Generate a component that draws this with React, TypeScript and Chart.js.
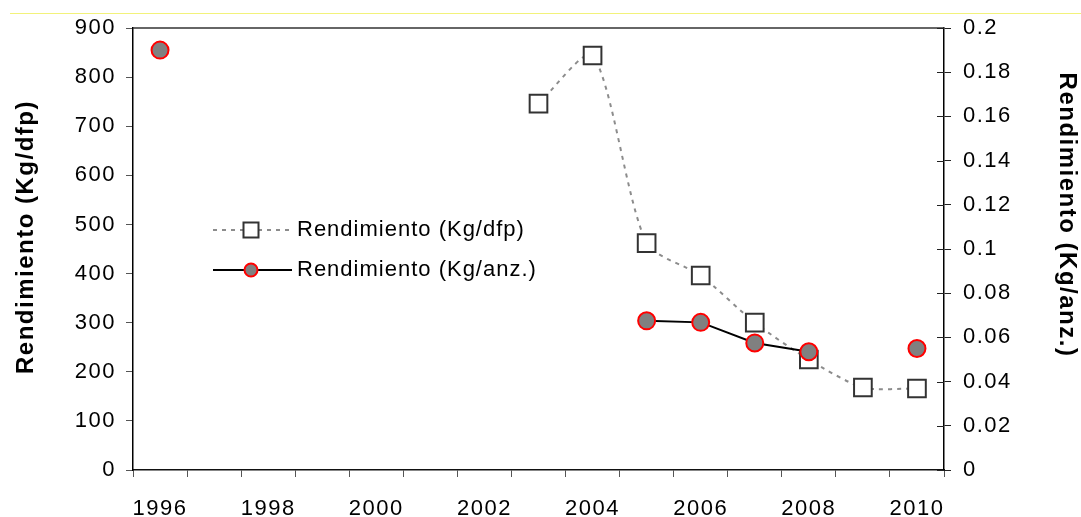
import React, { useEffect, useRef } from 'react';
import { Chart, registerables } from 'chart.js';

Chart.register(...registerables);

const years = ['1996', '1997', '1998', '1999', '2000', '2001', '2002', '2003', '2004', '2005', '2006', '2007', '2008', '2009', '2010'];
const rendDfp = [null, null, null, null, null, null, null, 746, 844, 462, 396, 300, 225, 168, 166];
const rendAnz = [0.19, null, null, null, null, null, null, null, null, 0.0675, 0.0668, 0.0575, 0.0535, null, 0.055];
const leftAxisRange = [0, 900, 100];
const rightAxisRange = [0, 0.2, 0.02];
const labelDfp = 'Rendimiento (Kg/dfp)';
const labelAnz = 'Rendimiento (Kg/anz.)';

const FONT = '"Liberation Sans", Arial, sans-serif';

const decorPlugin = {
  id: 'decor',
  beforeDraw(chart: any) {
    chart.ctx.letterSpacing = '1.5px';
  },
  afterDraw(chart: any) {
    const ctx = chart.ctx;
    const { left, right, top } = chart.chartArea;
    ctx.save();
    ctx.letterSpacing = '0px';
    // plot top border
    ctx.strokeStyle = '#333';
    ctx.lineWidth = 1.5;
    ctx.beginPath();
    ctx.moveTo(left, top);
    ctx.lineTo(right, top);
    ctx.stroke();
    // inner ticks on right axis
    const y1 = chart.scales.y1;
    ctx.strokeStyle = '#222';
    ctx.lineWidth = 1;
    y1.ticks.forEach((t: any) => {
      const y = Math.round(y1.getPixelForValue(t.value)) + 0.5;
      ctx.beginPath();
      ctx.moveTo(right - 7, y);
      ctx.lineTo(right, y);
      ctx.stroke();
    });

    // legend
    const dsDfp = chart.data.datasets[1];
    const dsAnz = chart.data.datasets[0];
    const lx0 = left + 80;
    const lx1 = left + 157;
    const mx = left + 118;
    const tx = left + 164;
    const r1 = 230;
    const r2 = 270;
    ctx.font = `22px ${FONT}`;
    ctx.textBaseline = 'middle';
    ctx.textAlign = 'left';
    ctx.fillStyle = '#000';
    // row 1
    ctx.save();
    ctx.strokeStyle = dsDfp.borderColor;
    ctx.lineWidth = 2;
    ctx.setLineDash(dsDfp.borderDash);
    ctx.beginPath();
    ctx.moveTo(lx0, r1);
    ctx.lineTo(lx1, r1);
    ctx.stroke();
    ctx.restore();
    ctx.fillStyle = '#fff';
    ctx.fillRect(mx - 7.5, r1 - 7.5, 15, 15);
    ctx.strokeStyle = dsDfp.pointBorderColor;
    ctx.lineWidth = 2;
    ctx.strokeRect(mx - 7.5, r1 - 7.5, 15, 15);
    ctx.fillStyle = '#000';
    ctx.letterSpacing = '1px';
    ctx.fillText(dsDfp.label, tx, r1);
    // row 2
    ctx.strokeStyle = dsAnz.borderColor;
    ctx.lineWidth = 2;
    ctx.beginPath();
    ctx.moveTo(lx0, r2);
    ctx.lineTo(lx1 + 2, r2);
    ctx.stroke();
    ctx.beginPath();
    ctx.arc(mx, r2, 6.5, 0, Math.PI * 2);
    ctx.fillStyle = dsAnz.pointBackgroundColor;
    ctx.fill();
    ctx.strokeStyle = dsAnz.pointBorderColor;
    ctx.lineWidth = 2;
    ctx.stroke();
    ctx.fillStyle = '#000';
    ctx.fillText(dsAnz.label, tx, r2);

    // axis titles
    ctx.font = `bold 24px ${FONT}`;
    ctx.letterSpacing = '1.5px';
    ctx.textAlign = 'center';
    ctx.save();
    ctx.translate(26, 237);
    ctx.rotate(-Math.PI / 2);
    ctx.fillText(labelDfp, 0, 0);
    ctx.restore();
    ctx.save();
    ctx.translate(1067, 215);
    ctx.rotate(Math.PI / 2);
    ctx.fillText(labelAnz, 0, 0);
    ctx.restore();
    ctx.restore();
    ctx.letterSpacing = '0px';
  },
};

export default function App() {
  const ref = useRef<HTMLCanvasElement | null>(null);
  useEffect(() => {
    if (!ref.current) return;
    const tickFont = { family: FONT, size: 22 };
    const chart = new Chart(ref.current, {
      type: 'line',
      data: {
        labels: years,
        datasets: [
          {
            label: labelAnz,
            data: rendAnz,
            yAxisID: 'y1',
            order: 0,
            borderColor: '#000',
            borderWidth: 2,
            tension: 0,
            spanGaps: false,
            pointStyle: 'circle',
            pointRadius: 8.5,
            pointBackgroundColor: '#808080',
            pointBorderColor: '#ff0000',
            pointBorderWidth: 2,
          },
          {
            label: labelDfp,
            data: rendDfp,
            yAxisID: 'y',
            order: 1,
            borderColor: '#8c8c8c',
            borderWidth: 2,
            borderDash: [4, 5],
            tension: 0.25,
            spanGaps: false,
            pointStyle: 'rect',
            pointRadius: 12.5,
            pointBackgroundColor: '#ffffff',
            pointBorderColor: '#333333',
            pointBorderWidth: 2,
          },
        ] as any,
      },
      options: {
        responsive: false,
        animation: false,
        events: [],
        layout: { padding: { top: 28, left: 0, right: 0, bottom: 0 } },
        plugins: { legend: { display: false }, tooltip: { enabled: false } },
        scales: {
          x: {
            type: 'category',
            offset: true,
            grid: { offset: true, drawOnChartArea: false, drawTicks: true, tickLength: 7, color: '#555', lineWidth: 1 },
            border: { display: true, color: '#111', width: 1.5 },
            ticks: {
              autoSkip: false,
              maxRotation: 0,
              padding: 19,
              color: '#000',
              font: tickFont,
              callback: (v: any, i: number) => (i % 2 === 0 ? years[i] : ''),
            },
            afterFit: (s: any) => { s.height = 47; },
          },
          y: {
            position: 'left',
            min: leftAxisRange[0],
            max: leftAxisRange[1],
            grid: { drawOnChartArea: false, drawTicks: true, tickLength: 7, color: '#555' },
            border: { display: true, color: '#000', width: 1.5 },
            ticks: { stepSize: leftAxisRange[2], padding: 10, color: '#000', font: tickFont },
            afterFit: (s: any) => { s.width = 133; },
          },
          y1: {
            position: 'right',
            min: rightAxisRange[0],
            max: rightAxisRange[1],
            grid: { drawOnChartArea: false, drawTicks: true, tickLength: 7, color: '#222' },
            border: { display: true, color: '#000', width: 1.5 },
            ticks: {
              stepSize: rightAxisRange[2],
              padding: 12,
              color: '#000',
              font: tickFont,
              callback: (v: any) => String(Number(Number(v).toFixed(2))),
            },
            afterFit: (s: any) => { s.width = 137; },
          },
        },
      } as any,
      plugins: [decorPlugin],
    });
    return () => chart.destroy();
  }, []);
  return (
    <div style={{ position: 'fixed', left: 0, top: 0, width: 1081, height: 517, background: '#fff' }}>
      <div style={{ position: 'absolute', left: 10, right: 0, top: 13, height: 1, background: '#f2f27a' }} />
      <canvas ref={ref} width={1081} height={517} style={{ position: 'absolute', left: 0, top: 0, width: 1081, height: 517 }} />
    </div>
  );
}
